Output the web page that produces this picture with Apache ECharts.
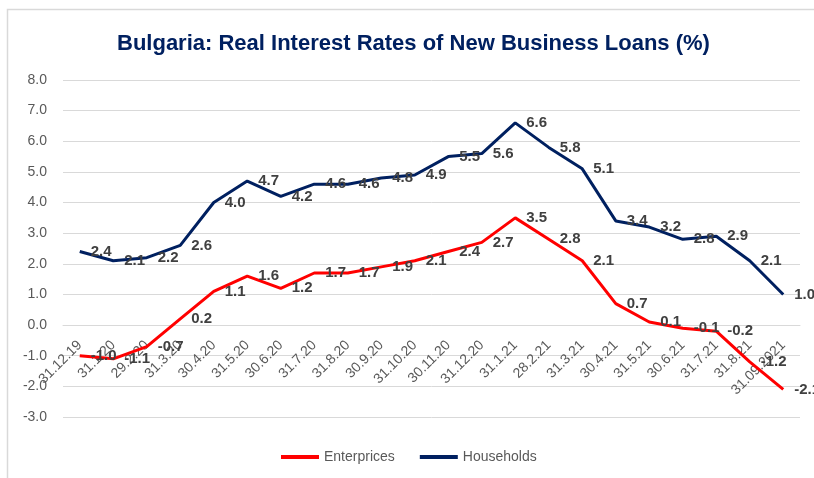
<!DOCTYPE html>
<html>
<head>
<meta charset="utf-8">
<script src="https://cdn.jsdelivr.net/npm/echarts@6/dist/echarts.min.js"></script>
<style>
  html, body { margin: 0; padding: 0; background: #ffffff; }
  #chart { width: 814px; height: 478px; }
</style>
</head>
<body>
<div id="chart"></div>
<script>
var categories = ['31.12.19', '31.1.20', '29.2.20', '31.3.20', '30.4.20', '31.5.20', '30.6.20',
    '31.7.20', '31.8.20', '30.9.20', '31.10.20', '30.11.20', '31.12.20', '31.1.21', '28.2.21',
    '31.3.21', '30.4.21', '31.5.21', '30.6.21', '31.7.21', '31.8.21', '31.09.2021'];
var enterprises = [-1.0, -1.1, -0.7, 0.2, 1.1, 1.6, 1.2, 1.7, 1.7, 1.9, 2.1, 2.4, 2.7, 3.5, 2.8,
    2.1, 0.7, 0.1, -0.1, -0.2, -1.2, -2.1];
var households = [2.4, 2.1, 2.2, 2.6, 4.0, 4.7, 4.2, 4.6, 4.6, 4.8, 4.9, 5.5, 5.6, 6.6, 5.8,
    5.1, 3.4, 3.2, 2.8, 2.9, 2.1, 1.0];

var dom = document.getElementById('chart');
var myChart = echarts.init(dom);

var gridTop = 80, gridBottom = 61, yMin = -3, yMax = 8;
// move the category labels up to the zero line, as Excel does
var plotH = 478 - gridTop - gridBottom;
var zeroShift = -plotH * (0 - yMin) / (yMax - yMin);

var pointLabel = {
    show: true,
    position: 'right',
    distance: 11,
    color: '#404040',
    fontWeight: 'bold',
    fontSize: 15,
    fontFamily: 'Liberation Sans',
    formatter: function (p) { return p.value.toFixed(1); }
};

var option = {
    backgroundColor: '#ffffff',
    animation: false,
    graphic: [{
        type: 'rect',
        shape: { x: 7.5, y: 9.5, width: 1000, height: 1000 },
        style: { fill: 'none', stroke: '#d9d9d9', lineWidth: 1.5 }
    }],
    title: {
        text: 'Bulgaria: Real Interest Rates of New Business Loans (%)',
        left: 112,
        top: 28,
        textStyle: {
            color: '#002060',
            fontSize: 22,
            fontWeight: 'bold',
            fontFamily: 'Liberation Sans Narrow, Liberation Sans'
        }
    },
    legend: {
        left: 276,
        top: 445,
        icon: 'rect',
        itemWidth: 38,
        itemHeight: 4,
        itemGap: 25,
        textStyle: { color: '#595959', fontSize: 14, fontFamily: 'Liberation Sans' },
        data: ['Enterprices', 'Households']
    },
    grid: { left: 63, right: 14, top: gridTop, bottom: gridBottom },
    xAxis: {
        type: 'category',
        data: categories,
        boundaryGap: true,
        offset: zeroShift,
        axisLine: { show: true, onZero: false, lineStyle: { color: '#d9d9d9' } },
        axisTick: { show: false },
        axisLabel: {
            interval: 0,
            rotate: 45,
            margin: 18,
            color: '#595959',
            fontSize: 14,
            fontFamily: 'Liberation Sans'
        }
    },
    yAxis: {
        type: 'value',
        min: yMin,
        max: yMax,
        interval: 1,
        axisLine: { show: false },
        axisTick: { show: false },
        axisLabel: {
            margin: 16,
            color: '#595959',
            fontSize: 14,
            fontFamily: 'Liberation Sans',
            formatter: function (v) { return v.toFixed(1); }
        },
        splitLine: { lineStyle: { color: '#d9d9d9' } }
    },
    series: [
        {
            name: 'Enterprices',
            type: 'line',
            data: enterprises,
            symbol: 'circle',
            symbolSize: 0,
            lineStyle: { color: '#ff0000', width: 3 },
            itemStyle: { color: '#ff0000' },
            label: pointLabel
        },
        {
            name: 'Households',
            type: 'line',
            data: households,
            symbol: 'circle',
            symbolSize: 0,
            lineStyle: { color: '#002060', width: 3 },
            itemStyle: { color: '#002060' },
            label: pointLabel
        }
    ]
};

myChart.setOption(option);
</script>
</body>
</html>
